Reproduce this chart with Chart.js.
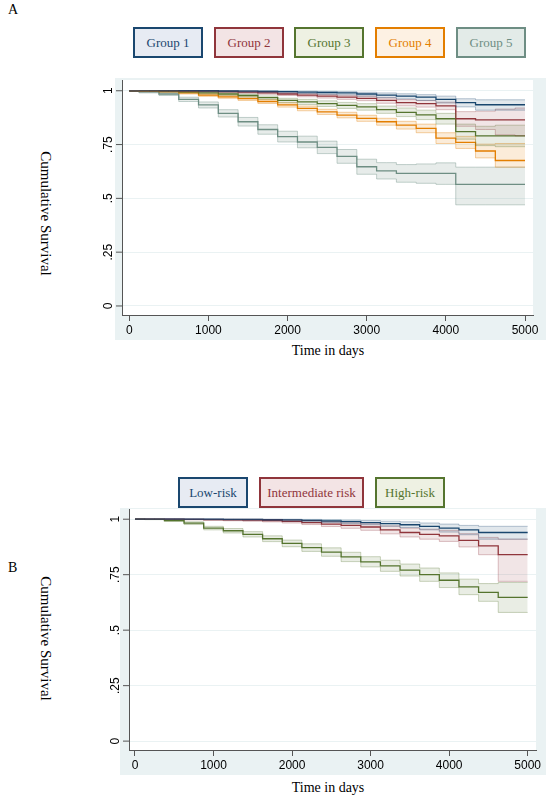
<!DOCTYPE html>
<html><head><meta charset="utf-8">
<script src="https://cdn.jsdelivr.net/npm/chart.js@4.4.1/dist/chart.umd.min.js"></script>
<style>
body{margin:0;width:548px;height:800px;background:#fff;position:relative;font-family:"Liberation Serif","DejaVu Serif",serif;overflow:hidden}
.abs{position:absolute}
.lg{position:absolute;height:31px;border:2px solid;box-sizing:border-box;display:flex;align-items:center;justify-content:center;font-size:13px}
.yl{position:absolute;font-size:15px;transform:rotate(90deg);transform-origin:center;white-space:nowrap;width:200px;text-align:center}
</style></head><body>
<div class="abs" style="left:8px;top:2px;font-size:14px">A</div>
<div class="abs" style="left:8px;top:560px;font-size:14px">B</div>
<div id="legA"></div><div id="legB"></div>
<div class="yl" style="left:-55px;top:205px">Cumulative Survival</div>
<div class="yl" style="left:-55px;top:630px">Cumulative Survival</div>
<div class="abs" style="left:100px;width:456px;text-align:center;top:343px;font-size:14px">Time in days</div>
<div class="abs" style="left:100px;width:456px;text-align:center;top:780px;font-size:14px">Time in days</div>
<canvas id="cA" class="abs" style="left:100px;top:78px"></canvas>
<canvas id="cB" class="abs" style="left:100px;top:508px"></canvas>
<script>
const times=[0,250,500,750,1000,1250,1500,1750,2000,2250,2500,2750,3000,3250,3500,3750,4000,4250,4500,4750,5000];
const xTicks=[0,1000,2000,3000,4000,5000];
const yTicks=[0,0.25,0.5,0.75,1];
const yTickLabels=["0",".25",".5",".75","1"];
const namesA=["Group 1","Group 2","Group 3","Group 4","Group 5"];
const namesB=["Low-risk","Intermediate risk","High-risk"];
// Figure A
const g1=[1,1,1,1,1,.999,.998,.997,.996,.994,.992,.99,.985,.98,.975,.97,.96,.945,.935,.935,.935];
const g1lo=[1,1,1,.999,.998,.996,.994,.992,.99,.987,.984,.981,.975,.968,.962,.955,.943,.925,.91,.91,.91];
const g1hi=[1,1,1,1,1,1,1,1,.999,.998,.997,.996,.993,.99,.986,.982,.975,.963,.958,.958,.958];
const g2=[1,1,1,.999,.998,.996,.994,.99,.985,.98,.975,.97,.965,.955,.945,.94,.93,.87,.865,.865,.865];
const g2lo=[1,1,.999,.997,.995,.992,.989,.984,.978,.972,.966,.96,.954,.942,.93,.924,.912,.835,.82,.795,.79];
const g2hi=[1,1,1,1,1,.999,.998,.995,.991,.987,.983,.979,.975,.967,.959,.955,.947,.903,.905,.915,.92];
const g3=[1,1,.998,.995,.99,.985,.978,.968,.955,.948,.94,.932,.925,.912,.9,.888,.87,.81,.79,.79,.79];
const g3lo=[1,1,.995,.991,.985,.979,.971,.96,.945,.936,.927,.918,.91,.895,.88,.866,.845,.775,.745,.74,.74];
const g3hi=[1,1,1,.998,.995,.991,.985,.976,.965,.96,.953,.946,.94,.929,.92,.91,.895,.845,.835,.84,.84];
const g4=[1,.999,.996,.99,.98,.972,.963,.95,.934,.918,.902,.887,.872,.856,.84,.825,.78,.76,.72,.676,.676];
const g4lo=[1,.997,.993,.985,.974,.965,.955,.941,.924,.907,.89,.874,.858,.84,.822,.805,.755,.732,.688,.645,.645];
const g4hi=[1,1,.999,.995,.986,.979,.971,.959,.944,.929,.914,.9,.886,.872,.858,.845,.805,.788,.752,.755,.755];
const g5=[1,.995,.985,.96,.934,.895,.856,.82,.787,.762,.737,.695,.647,.628,.616,.616,.616,.565,.565,.565,.565];
const g5lo=[1,.99,.978,.95,.92,.878,.836,.798,.762,.735,.708,.663,.612,.59,.575,.57,.565,.47,.47,.47,.47];
const g5hi=[1,.999,.992,.97,.948,.912,.876,.842,.812,.789,.766,.727,.682,.666,.657,.66,.665,.645,.645,.645,.645];
// Figure B
const low=[1,1,1,1,1,.999,.999,.998,.997,.995,.992,.989,.985,.98,.975,.968,.96,.952,.94,.94,.94];
const lowLo=[1,1,1,.999,.998,.997,.996,.994,.992,.989,.985,.98,.975,.968,.962,.952,.942,.93,.91,.91,.91];
const lowHi=[1,1,1,1,1,1,1,1,1,.999,.998,.996,.994,.991,.988,.983,.978,.972,.968,.968,.968];
const mid=[1,1,1,.999,.998,.997,.996,.994,.99,.985,.978,.972,.965,.952,.94,.932,.925,.905,.88,.84,.84];
const midLo=[1,1,.999,.997,.995,.993,.991,.988,.983,.976,.967,.959,.95,.934,.92,.91,.9,.875,.84,.72,.72];
const midHi=[1,1,1,1,1,1,1,.999,.996,.993,.988,.984,.979,.97,.96,.955,.95,.935,.918,.91,.91];
const high=[1,.999,.994,.982,.96,.948,.932,.912,.891,.872,.852,.83,.808,.79,.771,.75,.725,.695,.67,.648,.648];
const highLo=[1,.998,.99,.976,.952,.938,.92,.899,.876,.855,.833,.809,.785,.765,.744,.72,.692,.66,.63,.58,.58];
const highHi=[1,1,.998,.988,.968,.958,.944,.925,.906,.889,.871,.851,.831,.815,.798,.78,.758,.73,.71,.715,.715];

const cols=["#1a476f","#90353b","#55752f","#e37e00","#6e8e84"];
const bands=["rgba(26,71,111,0.13)","rgba(144,53,59,0.13)","rgba(85,117,47,0.13)","rgba(227,126,0,0.15)","rgba(110,142,132,0.17)"];
const fills=["#e7ebf3","#f3e4e5","#eef1e3","#fdf1e3","#e3ebe8"];
const bandLine=["rgba(26,71,111,0.3)","rgba(144,53,59,0.3)","rgba(85,117,47,0.3)","rgba(227,126,0,0.35)","rgba(110,142,132,0.4)"];

function pts(a){return times.map((t,i)=>({x:t,y:a[i]}));}
function build(series){
  const ds=[];
  series.forEach((s,k)=>{
    ds.push({data:pts(s[2]),borderColor:bandLine[k],borderWidth:1,backgroundColor:bands[k],fill:'+1',stepped:'middle',pointRadius:0});
    ds.push({data:pts(s[1]),borderColor:bandLine[k],borderWidth:1,fill:false,stepped:'middle',pointRadius:0});
  });
  series.forEach((s,k)=>{
    ds.push({data:pts(s[0]),borderColor:cols[k],borderWidth:1.3,fill:false,stepped:'middle',pointRadius:0});
  });
  return ds;
}
function legend(id,names,lefts,widths,top){
  const el=document.getElementById(id);
  names.forEach((n,i)=>{const d=document.createElement('div');d.className='lg';
    d.style.cssText=`left:${lefts[i]}px;top:${top}px;width:${widths[i]}px;border-color:${cols[i]};background:${fills[i]};color:${cols[i]}`;
    d.textContent=n;el.appendChild(d);});
}
legend('legA',namesA,[133,214,294,375,456],[70,70,70,70,70],27);
legend('legB',namesB,[178,259,375],[70,105,70],477);

function make(id,w,h,bgLeft,lw,ax,datasets,xr,yr){
  const c=document.getElementById(id);c.width=w;c.height=h;c.style.width=w+'px';c.style.height=h+'px';
  const plug={id:'p',beforeDraw(ch){const g=ch.ctx,a=ch.chartArea;g.save();g.fillStyle='#eaf2f3';g.fillRect(bgLeft,0,w-bgLeft,h);
      g.fillStyle='#fff';g.fillRect(a.left,a.top,a.right-a.left,a.bottom-a.top);g.restore();},
    afterDraw(ch){const g=ch.ctx,ys=ch.scales.y,a=ch.chartArea;g.save();g.fillStyle='#000';g.font='12px "Liberation Sans",Arial';
      g.textAlign='center';g.textBaseline='middle';
      yTicks.forEach((v,i)=>{const py=ys.getPixelForValue(v);g.save();g.translate(a.left-13,py);g.rotate(-Math.PI/2);g.fillText(yTickLabels[i],0,0);g.restore();
        g.strokeStyle='#555';g.beginPath();g.moveTo(a.left-6,py);g.lineTo(a.left,py);g.stroke();});
      g.restore();}};
  new Chart(c,{type:'line',data:{datasets},plugins:[plug],
    options:{responsive:false,animation:false,devicePixelRatio:1,
      layout:{padding:{top:yr[2],right:xr[2],left:0,bottom:0}},
      plugins:{legend:{display:false},tooltip:{enabled:false}},
      scales:{
        x:{type:'linear',min:xr[0],max:xr[1],afterBuildTicks(s){s.ticks=xTicks.map(v=>({value:v}));},afterFit(s){s.height=ax;},
          grid:{drawOnChartArea:false,tickLength:6,color:'#555'},border:{color:'#555'},
          ticks:{color:'#000',font:{size:12,family:'"Liberation Sans",Arial'},maxRotation:0,padding:2,callback:v=>String(v)}},
        y:{min:yr[0],max:yr[1],afterBuildTicks(s){s.ticks=yTicks.map(v=>({value:v}));},afterFit(s){s.width=lw;},
          grid:{color:'#eaf2f3',drawTicks:false},border:{color:'#555'},ticks:{display:false}}
      }}});
}
make('cA',446,262,15,22,25,build([[g1,g1lo,g1hi],[g2,g2lo,g2hi],[g3,g3lo,g3hi],[g4,g4lo,g4hi],[g5,g5lo,g5hi]]),[-92,5101,13],[-0.042,1.05,2]);
make('cB',446,267,20,29,25,build([[low,lowLo,lowHi],[mid,midLo,midHi],[high,highLo,highHi]]),[-76,5106,10],[-0.04,1.046,1]);
</script></body></html>
